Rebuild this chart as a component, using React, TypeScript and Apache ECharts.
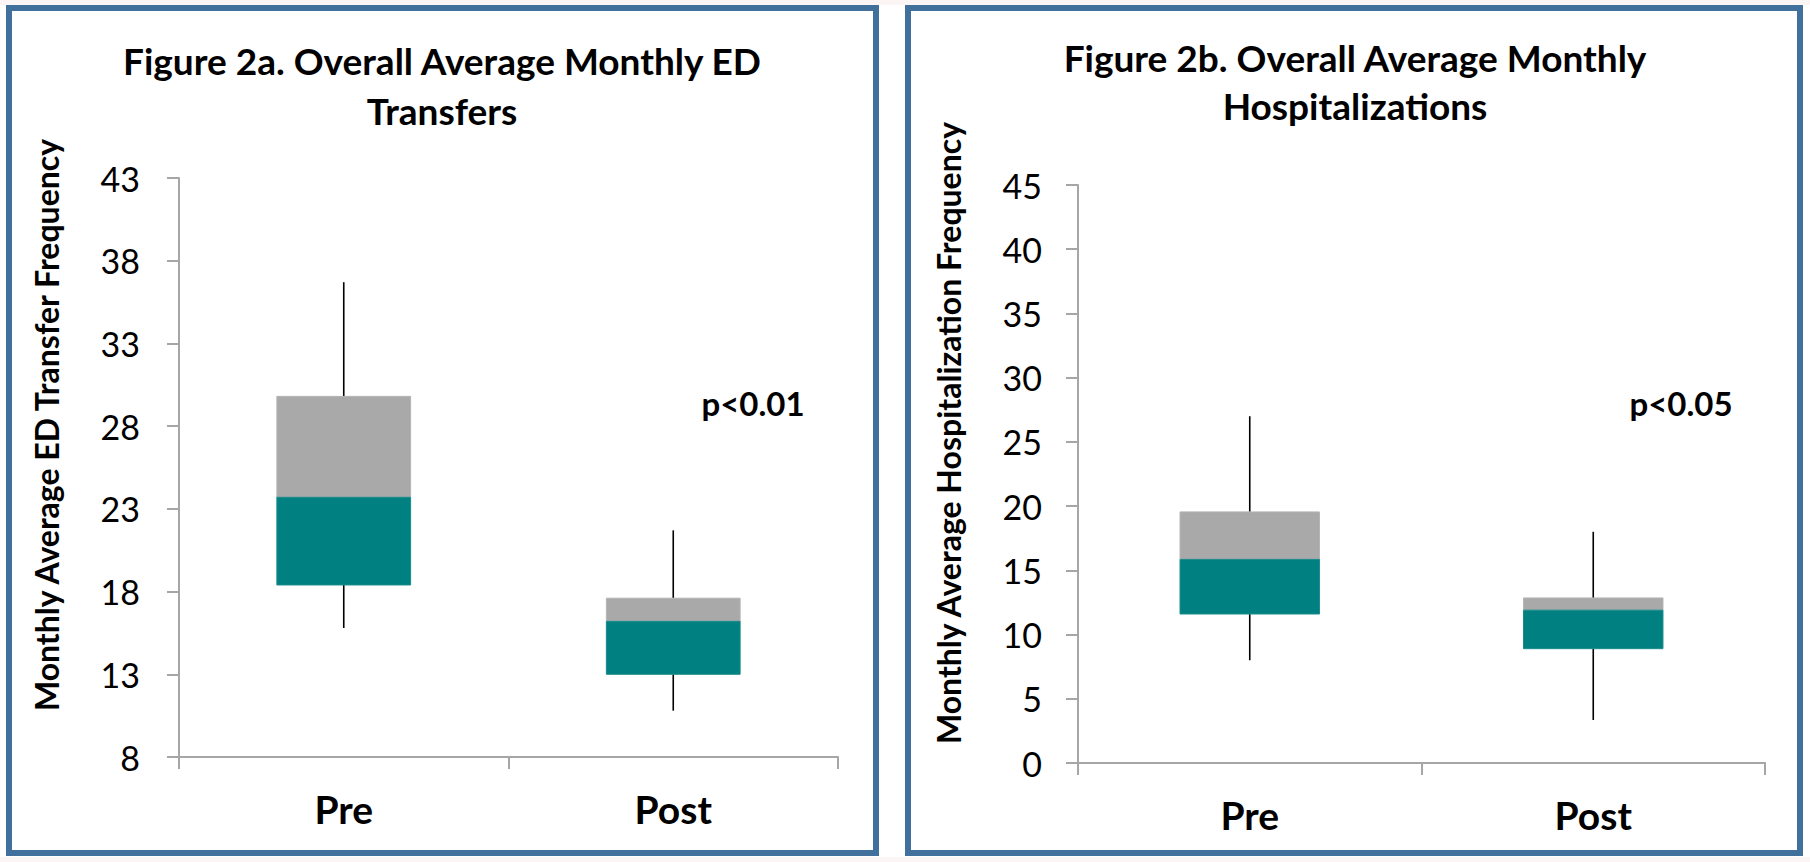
import React, { useEffect, useRef } from "react";
import * as echarts from "echarts";

const categories = ["Pre", "Post"];

// ED transfers (Figure 2a)
const edWhiskerLow = [15.8, 10.8];
const edQ1 = [18.4, 13.0];
const edMedian = [23.7, 16.2];
const edQ3 = [29.8, 17.6];
const edWhiskerHigh = [36.7, 21.7];
const edTicks = { min: 8, max: 43, interval: 5 };

// Hospitalizations (Figure 2b)
const hWhiskerLow = [8.0, 3.35];
const hQ1 = [11.6, 8.9];
const hMedian = [15.85, 11.9];
const hQ3 = [19.55, 12.85];
const hWhiskerHigh = [27.0, 18.0];
const hTicks = { min: 0, max: 45, interval: 5 };

const titles = [
  "Figure 2a. Overall Average Monthly ED\nTransfers",
  "Figure 2b. Overall Average Monthly\nHospitalizations",
];
const yNames = [
  "Monthly Average ED Transfer Frequency",
  "Monthly Average Hospitalization Frequency",
];
const pLabels = ["p<0.01", "p<0.05"];

const TEAL = "#008080";
const GRAY = "#A9A9A9";
const AXIS = "#A6A6A6";
const BORDER = "#41709C";
const FONT = "Lato, 'Open Sans', sans-serif";

function buildData(low: number[], q1: number[], med: number[], q3: number[], high: number[]) {
  return categories.map((_, i) => [i, low[i], q1[i], med[i], q3[i], high[i]]);
}

function renderBox(params: any, api: any) {
  const idx = api.value(0);
  const low = api.coord([idx, api.value(1)]);
  const q1 = api.coord([idx, api.value(2)]);
  const med = api.coord([idx, api.value(3)]);
  const q3 = api.coord([idx, api.value(4)]);
  const high = api.coord([idx, api.value(5)]);
  const w = api.size([1, 0])[0] * 0.406;
  const cx = q1[0];
  const x0 = cx - w / 2;
  return {
    type: "group",
    children: [
      {
        type: "line",
        shape: { x1: cx, y1: high[1], x2: cx, y2: q3[1] },
        style: { stroke: "#000", lineWidth: 1.6 },
      },
      {
        type: "line",
        shape: { x1: cx, y1: q1[1], x2: cx, y2: low[1] },
        style: { stroke: "#000", lineWidth: 1.6 },
      },
      {
        type: "rect",
        shape: { x: x0, y: q3[1], width: w, height: med[1] - q3[1] },
        style: { fill: GRAY, stroke: "#B4B4B4", lineWidth: 1 },
      },
      {
        type: "rect",
        shape: { x: x0, y: med[1], width: w, height: q1[1] - med[1] },
        style: { fill: TEAL, stroke: "#1A8C8C", lineWidth: 1 },
      },
    ],
  };
}

function yAxis(gridIndex: number, t: { min: number; max: number; interval: number }, margin: number) {
  return {
    type: "value",
    gridIndex,
    min: t.min,
    max: t.max,
    interval: t.interval,
    splitLine: { show: false },
    axisLine: { show: true, lineStyle: { color: AXIS, width: 2 } },
    axisTick: { show: true, length: 12, lineStyle: { color: AXIS, width: 2 } },
    axisLabel: { color: "#000", fontSize: 34, fontFamily: FONT, margin },
  };
}

function xAxis(gridIndex: number) {
  return {
    type: "category",
    gridIndex,
    data: categories,
    axisLine: { show: true, lineStyle: { color: AXIS, width: 2 } },
    axisTick: { show: true, length: 12, lineStyle: { color: AXIS, width: 2 } },
    axisLabel: {
      color: "#000",
      fontSize: 39,
      fontWeight: "bold",
      fontFamily: FONT,
      margin: 32,
    },
  };
}

function yNameText(x: number, y: number, text: string) {
  return {
    type: "text",
    x,
    y,
    rotation: Math.PI / 2,
    style: {
      text,
      fontSize: 32,
      fontWeight: "bold",
      fontFamily: FONT,
      fill: "#000",
      textAlign: "center",
      textVerticalAlign: "middle",
    },
  };
}

function pText(x: number, y: number, text: string) {
  return {
    type: "text",
    x,
    y,
    style: {
      text,
      fontSize: 33,
      fontWeight: "bold",
      fontFamily: FONT,
      fill: "#000",
      textAlign: "center",
      textVerticalAlign: "middle",
    },
  };
}

export default function App() {
  const ref = useRef<HTMLDivElement>(null);
  useEffect(() => {
    if (!ref.current) return;
    const chart = echarts.init(ref.current, null, { renderer: "svg" });
    chart.setOption({
      animation: false,
      backgroundColor: "#FFFFFF",
      title: [
        {
          text: titles[0],
          left: 442,
          top: 35,
          padding: 0,
          textAlign: "center",
          textStyle: { fontSize: 37, fontWeight: "bold", fontFamily: FONT, color: "#000", lineHeight: 50 },
        },
        {
          text: titles[1],
          left: 1355,
          top: 33,
          padding: 0,
          textAlign: "center",
          textStyle: { fontSize: 37, fontWeight: "bold", fontFamily: FONT, color: "#000", lineHeight: 48.5 },
        },
      ],
      grid: [
        { left: 179, top: 178, width: 659, height: 579 },
        { left: 1078, top: 185, width: 687, height: 578 },
      ],
      xAxis: [xAxis(0), xAxis(1)],
      yAxis: [yAxis(0, edTicks, 39), yAxis(1, hTicks, 36)],
      graphic: [
        { type: "rect", z: -10, shape: { x: 0, y: 0, width: 1810, height: 5 }, style: { fill: "#FBF6F5" } },
        { type: "rect", z: -10, shape: { x: 0, y: 857, width: 1810, height: 5 }, style: { fill: "#FBF6F5" } },
        {
          type: "rect",
          z: -5,
          shape: { x: 9, y: 8, width: 867, height: 845 },
          style: { fill: "#fff", stroke: BORDER, lineWidth: 6 },
        },
        {
          type: "rect",
          z: -5,
          shape: { x: 908, y: 8, width: 892, height: 845 },
          style: { fill: "#fff", stroke: BORDER, lineWidth: 6 },
        },
        yNameText(46, 425, yNames[0]),
        yNameText(948, 433, yNames[1]),
        pText(753, 403, pLabels[0]),
        pText(1681, 403, pLabels[1]),
      ],
      series: [
        {
          type: "custom",
          xAxisIndex: 0,
          yAxisIndex: 0,
          renderItem: renderBox,
          encode: { x: 0, y: [1, 2, 3, 4, 5] },
          data: buildData(edWhiskerLow, edQ1, edMedian, edQ3, edWhiskerHigh),
        },
        {
          type: "custom",
          xAxisIndex: 1,
          yAxisIndex: 1,
          renderItem: renderBox,
          encode: { x: 0, y: [1, 2, 3, 4, 5] },
          data: buildData(hWhiskerLow, hQ1, hMedian, hQ3, hWhiskerHigh),
        },
      ],
    });
    return () => chart.dispose();
  }, []);
  return (
    <div
      ref={ref}
      style={{ position: "fixed", left: 0, top: 0, width: 1810, height: 862 }}
    />
  );
}
